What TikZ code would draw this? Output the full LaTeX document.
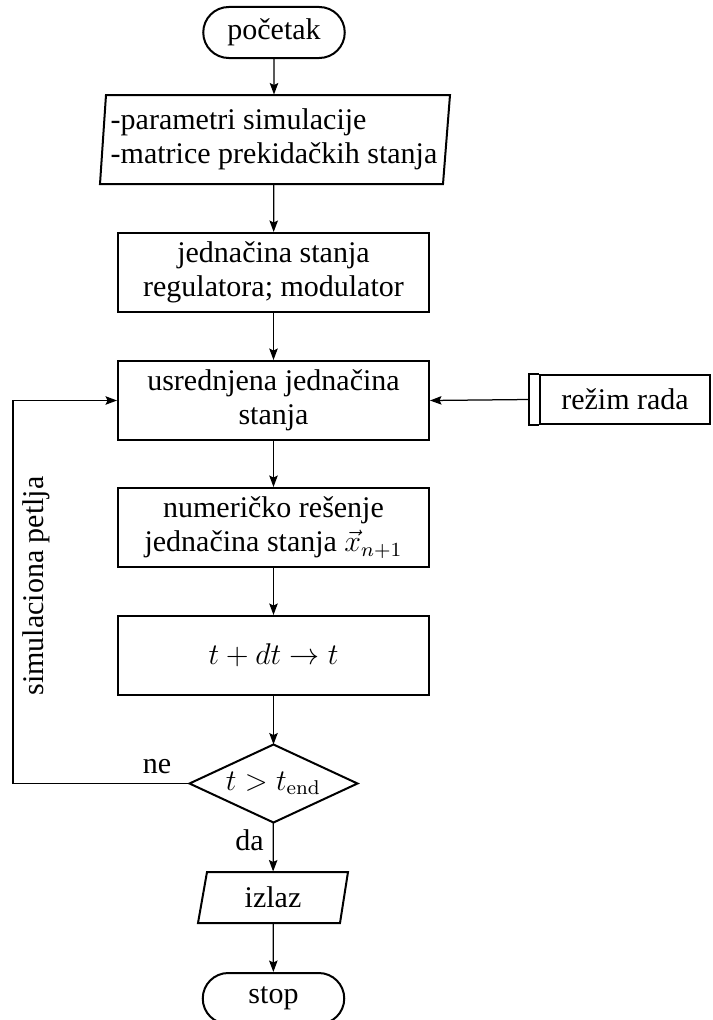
\documentclass[tikz,border=0pt]{standalone}
\usepackage[no-math]{fontspec}
\setmainfont{Liberation Serif}
\usetikzlibrary{shapes.geometric,shapes.misc,arrows.meta}
\tikzset{
  boxline/.style={draw, line width=0.8pt},
  procbox/.style={boxline, rectangle, minimum width=124.4pt, minimum height=31.6pt, align=center, inner sep=0pt},
  term/.style={boxline, rounded rectangle, minimum width=56.6pt, minimum height=20.4pt, inner sep=0pt},
  iobox/.style={rectangle, inner sep=0pt},
  decision/.style={rectangle, minimum width=66.8pt, minimum height=30.8pt, inner sep=0pt},
  conn/.style={line width=0.5pt, -{Stealth[length=4.6pt,width=3.4pt,inset=0.8pt]}},
  lbl/.style={inner sep=0pt}
}
\begin{document}
\begin{tikzpicture}[x=0.4pt,y=-0.4pt,font=\fontsize{12}{13.6}\selectfont]
\useasboundingbox (0,0) rectangle (713,1020);
% start
\node[term] (start) at (274,32.5) {početak};
% input parallelogram
\node[iobox, align=left, minimum height=35.6pt] (in1) at (274,139.5) {-parametri simulacije\\-matrice prekidačkih stanja};
\draw[boxline] (100,184) -- (443,184) -- (450,95) -- (106,95) -- cycle;
% process boxes
\node[procbox] (b2) at (273.5,272.5) {jednačina stanja\\regulatora; modulator};
\node[procbox] (b3) at (273.5,400.5) {usrednjena jednačina\\stanja};
\node[procbox] (b4) at (273.5,527.5) {numeričko rešenje\\jednačina stanja $\vec{x}_{n+1}$};
\node[procbox] (b5) at (273.5,655.5) {$t+dt\rightarrow t$};
% decision
\node[decision] (dec) at (273.5,783.5) {$t>t_{\mathrm{end}}$};
\draw[boxline] (dec.west) -- (dec.north) -- (dec.east) -- (dec.south) -- cycle;
% output
\node[iobox, minimum width=56pt, minimum height=20.4pt] (out) at (273,897.5) {izlaz};
\draw[boxline] (198,923) -- (340,923) -- (348,872) -- (207,872) -- cycle;
% stop
\node[term] (stop) at (273.5,998.5) {stop};
% mode box (predefined process)
\node[boxline, rectangle, minimum width=68pt, minimum height=19.6pt, inner sep=0pt] (mode) at (625,399.5) {režim rada};
\draw[boxline] (mode.north west) -- ++(-4pt,0) |- (mode.south west);
% connectors
\draw[conn] (start) -- (in1);
\draw[conn] (in1) -- (b2);
\draw[conn] (b2) -- (b3);
\draw[conn] (b3) -- (b4);
\draw[conn] (b4) -- (b5);
\draw[conn] (b5) -- (dec);
\draw[conn] (dec) -- (out);
\draw[conn] (out) -- (stop);
\draw[conn] ([xshift=-4pt]mode.west) -- (b3.east);
\coordinate (loopc) at (13,783.5);
\draw[conn] (dec.west) -- (loopc) |- (b3.west);
% labels
\node[lbl] (ne) at (157,767) {ne};
\node[lbl] (da) at (249.5,840) {da};
\node[lbl, rotate=90] (petlja) at (36,586) {simulaciona petlja};
\end{tikzpicture}
\end{document}
